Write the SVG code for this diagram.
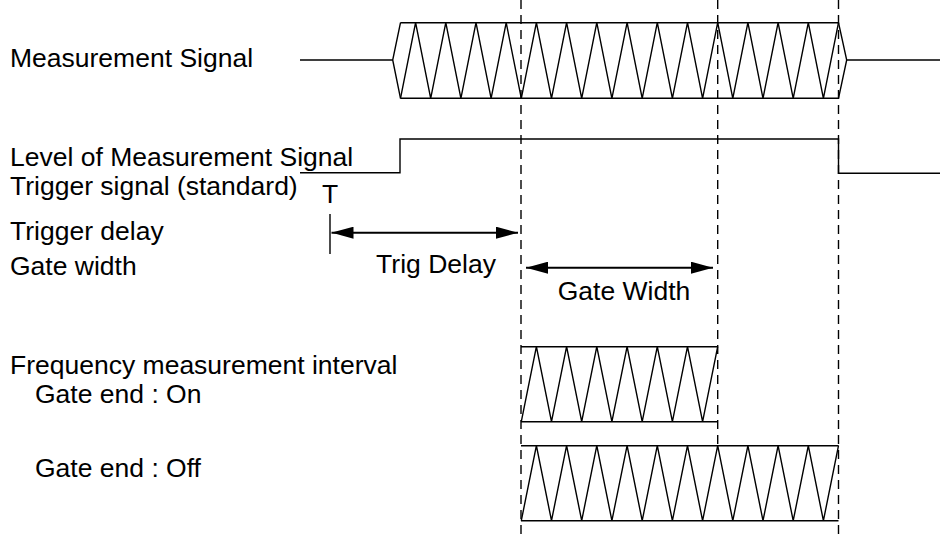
<svg xmlns="http://www.w3.org/2000/svg" width="940" height="536" viewBox="0 0 940 536">
<style>
text{font-family:"Liberation Sans",Arial,Helvetica,sans-serif;font-size:26.5px;fill:#000}
.sig{fill:none;stroke:#000;stroke-width:1.4;stroke-linejoin:miter}
.dash{fill:none;stroke:#000;stroke-width:1.4;stroke-dasharray:9 6}
.arr{fill:none;stroke:#000;stroke-width:2}
</style>
<defs>
<marker id="ah" viewBox="0 0 22 12" refX="22" refY="6" markerWidth="22" markerHeight="12" markerUnits="userSpaceOnUse" orient="auto-start-reverse">
<path d="M0,0 L22,6 L0,12 z" fill="#000"/>
</marker>
</defs>
<rect width="940" height="536" fill="#fff"/>

<g id="labels">
<text x="10" y="67.3">Measurement Signal</text>
<text x="10" y="166">Level of Measurement Signal</text>
<text x="10" y="195">Trigger signal (standard)</text>
<text x="10" y="240">Trigger delay</text>
<text x="10" y="275">Gate width</text>
<text x="10" y="373.5">Frequency measurement interval</text>
<text x="35" y="403">Gate end : On</text>
<text x="35" y="476.5">Gate end : Off</text>
</g>

<g id="measurement-signal">
<path class="sig" d="M300,60 H392.7 M846.7,60 H940 M400.5,22.7 H838.5 M400.5,98.3 H838.5 M400.5,22.7 L392.7,60 L400.5,98.3 M838.5,22.7 L846.7,60 L838.5,98.3"/>
<polyline class="sig" points="400.5,98.3 415.6,22.7 430.7,98.3 445.8,22.7 460.9,98.3 476,22.7 491.1,98.3 506.2,22.7 521.3,98.3 536.4,22.7 551.5,98.3 566.6,22.7 581.7,98.3 596.8,22.7 611.9,98.3 627.1,22.7 642.2,98.3 657.3,22.7 672.4,98.3 687.5,22.7 702.6,98.3 717.7,22.7 732.8,98.3 747.9,22.7 763,98.3 778.1,22.7 793.2,98.3 808.3,22.7 823.4,98.3 838.5,22.7"/>
</g>

<g id="level-signal">
<path class="sig" d="M300,172.7 H400 V139 H838.5 V173.3 H940"/>
</g>

<g id="trigger-marker">
<text x="330" y="203" text-anchor="middle">T</text>
<line class="sig" x1="330" y1="214" x2="330" y2="254"/>
</g>

<g id="gate-on">
<path class="sig" d="M521,346.7 H717.7 M521,421.7 H717.7"/>
<polyline class="sig" points="521.3,421.7 536.4,346.7 551.5,421.7 566.6,346.7 581.7,421.7 596.8,346.7 611.9,421.7 627.1,346.7 642.2,421.7 657.3,346.7 672.4,421.7 687.5,346.7 702.6,421.7 717.7,346.7"/>
</g>

<g id="gate-off">
<path class="sig" d="M521,445.7 H838.5 M521,520.7 H838.5"/>
<polyline class="sig" points="521.3,520.7 536.4,445.7 551.5,520.7 566.6,445.7 581.7,520.7 596.8,445.7 611.9,520.7 627.1,445.7 642.2,520.7 657.3,445.7 672.4,520.7 687.5,445.7 702.6,520.7 717.7,445.7 732.8,520.7 747.9,445.7 763,520.7 778.1,445.7 793.2,520.7 808.3,445.7 823.4,520.7 838.5,445.7"/>
</g>

<g id="connectors">
<line class="dash" x1="521" y1="0" x2="521" y2="536"/>
<line class="dash" x1="717.7" y1="0" x2="717.7" y2="446"/>
<line class="dash" x1="838.5" y1="0" x2="838.5" y2="536"/>
<line class="arr" x1="331.5" y1="232.7" x2="518" y2="232.7" marker-start="url(#ah)" marker-end="url(#ah)"/>
<line class="arr" x1="526" y1="267.7" x2="713" y2="267.7" marker-start="url(#ah)" marker-end="url(#ah)"/>
</g>

<g id="arrow-labels">
<text x="436" y="273" text-anchor="middle">Trig Delay</text>
<text x="624" y="300" text-anchor="middle">Gate Width</text>
</g>
</svg>
